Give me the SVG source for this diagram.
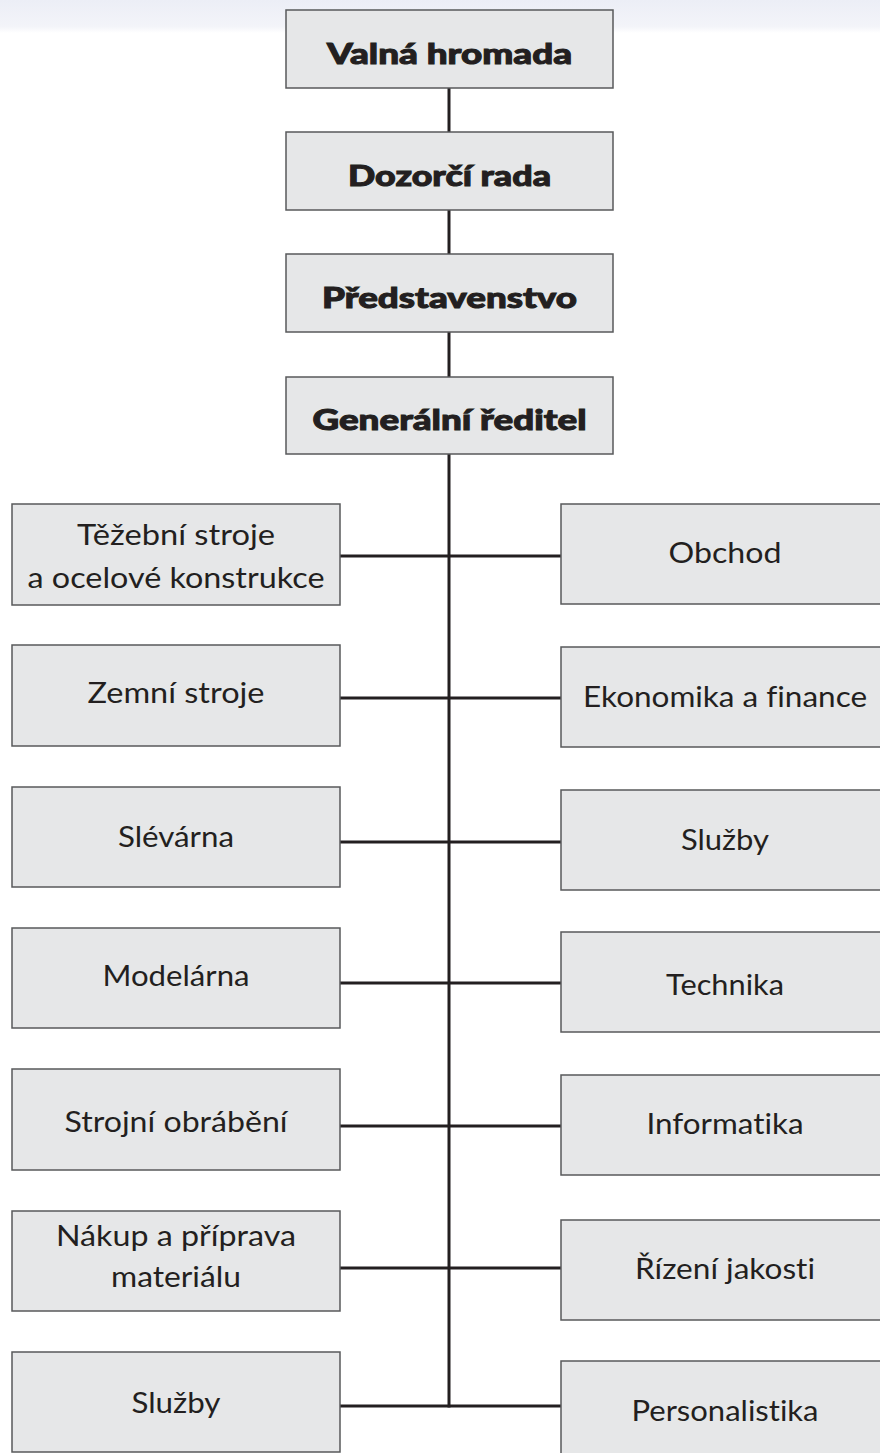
<svg xmlns="http://www.w3.org/2000/svg" width="880" height="1453" viewBox="0 0 880 1453">
<defs>
<linearGradient id="band" x1="0" y1="0" x2="0" y2="1">
<stop offset="0" stop-color="#eceef6"/>
<stop offset="0.8" stop-color="#f3f4f9"/>
<stop offset="1" stop-color="#ffffff"/>
</linearGradient>
</defs>
<style>
.box{fill:#e6e7e8;stroke:#58595b;stroke-width:1.5}
.hd{font-family:Lato,"DejaVu Sans",sans-serif;font-weight:900;font-size:29px;fill:#231f20;stroke:#231f20;stroke-width:1;text-anchor:middle;font-variant-ligatures:none}
.tx{font-family:Lato,"Open Sans","Liberation Sans",sans-serif;font-size:29px;fill:#231f20;text-anchor:middle;font-variant-ligatures:none}
.ln{stroke:#231f20;stroke-width:3;fill:none}
</style>
<rect x="0" y="0" width="880" height="1453" fill="#ffffff"/>
<rect x="0" y="0" width="880" height="33" fill="url(#band)"/>
<g id="connectors">
<line class="ln" x1="449" y1="88" x2="449" y2="132"/>
<line class="ln" x1="449" y1="210" x2="449" y2="254"/>
<line class="ln" x1="449" y1="332" x2="449" y2="377"/>
<line class="ln" x1="449" y1="454" x2="449" y2="1407.5"/>
<line class="ln" x1="340" y1="556" x2="561" y2="556"/>
<line class="ln" x1="340" y1="698" x2="561" y2="698"/>
<line class="ln" x1="340" y1="842" x2="561" y2="842"/>
<line class="ln" x1="340" y1="983" x2="561" y2="983"/>
<line class="ln" x1="340" y1="1126" x2="561" y2="1126"/>
<line class="ln" x1="340" y1="1268" x2="561" y2="1268"/>
<line class="ln" x1="340" y1="1406" x2="561" y2="1406"/>
</g>
<g id="valna-hromada">
<rect class="box" x="286" y="10" width="327" height="78"/>
<text class="hd" x="449.5" y="64" textLength="245" lengthAdjust="spacingAndGlyphs">Valná hromada</text>
</g>
<g id="dozorci-rada">
<rect class="box" x="286" y="132" width="327" height="78"/>
<text class="hd" x="449.5" y="186" textLength="203" lengthAdjust="spacingAndGlyphs">Dozorčí rada</text>
</g>
<g id="predstavenstvo">
<rect class="box" x="286" y="254" width="327" height="78"/>
<text class="hd" x="449.5" y="308" textLength="255" lengthAdjust="spacingAndGlyphs">Představenstvo</text>
</g>
<g id="generalni-reditel">
<rect class="box" x="286" y="377" width="327" height="77"/>
<text class="hd" x="449.5" y="430" textLength="274" lengthAdjust="spacingAndGlyphs">Generální ředitel</text>
</g>
<g id="tezebni-stroje">
<rect class="box" x="12" y="504" width="328" height="101"/>
<text class="tx" x="176" y="545" textLength="198" lengthAdjust="spacingAndGlyphs">Těžební stroje</text>
<text class="tx" x="176" y="588" textLength="297" lengthAdjust="spacingAndGlyphs">a ocelové konstrukce</text>
</g>
<g id="obchod">
<rect class="box" x="561" y="504" width="330" height="100"/>
<text class="tx" x="725" y="563" textLength="113" lengthAdjust="spacingAndGlyphs">Obchod</text>
</g>
<g id="zemni-stroje">
<rect class="box" x="12" y="645" width="328" height="101"/>
<text class="tx" x="176" y="703" textLength="177" lengthAdjust="spacingAndGlyphs">Zemní stroje</text>
</g>
<g id="ekonomika">
<rect class="box" x="561" y="647" width="330" height="100"/>
<text class="tx" x="725" y="707" textLength="284" lengthAdjust="spacingAndGlyphs">Ekonomika a finance</text>
</g>
<g id="slevarna">
<rect class="box" x="12" y="787" width="328" height="100"/>
<text class="tx" x="176" y="847" textLength="116" lengthAdjust="spacingAndGlyphs">Slévárna</text>
</g>
<g id="sluzby-r">
<rect class="box" x="561" y="790" width="330" height="100"/>
<text class="tx" x="725" y="850" textLength="88" lengthAdjust="spacingAndGlyphs">Služby</text>
</g>
<g id="modelarna">
<rect class="box" x="12" y="928" width="328" height="100"/>
<text class="tx" x="176" y="986" textLength="147" lengthAdjust="spacingAndGlyphs">Modelárna</text>
</g>
<g id="technika">
<rect class="box" x="561" y="932" width="330" height="100"/>
<text class="tx" x="725" y="995" textLength="118" lengthAdjust="spacingAndGlyphs">Technika</text>
</g>
<g id="strojni-obrabeni">
<rect class="box" x="12" y="1069" width="328" height="101"/>
<text class="tx" x="176" y="1132" textLength="223" lengthAdjust="spacingAndGlyphs">Strojní obrábění</text>
</g>
<g id="informatika">
<rect class="box" x="561" y="1075" width="330" height="100"/>
<text class="tx" x="725" y="1134" textLength="157" lengthAdjust="spacingAndGlyphs">Informatika</text>
</g>
<g id="nakup">
<rect class="box" x="12" y="1211" width="328" height="100"/>
<text class="tx" x="176" y="1246" textLength="240" lengthAdjust="spacingAndGlyphs">Nákup a příprava</text>
<text class="tx" x="176" y="1287" textLength="130" lengthAdjust="spacingAndGlyphs">materiálu</text>
</g>
<g id="rizeni-jakosti">
<rect class="box" x="561" y="1220" width="330" height="100"/>
<text class="tx" x="725" y="1279" textLength="180" lengthAdjust="spacingAndGlyphs">Řízení jakosti</text>
</g>
<g id="sluzby-l">
<rect class="box" x="12" y="1352" width="328" height="100"/>
<text class="tx" x="176" y="1413" textLength="89" lengthAdjust="spacingAndGlyphs">Služby</text>
</g>
<g id="personalistika">
<rect class="box" x="561" y="1361" width="330" height="100"/>
<text class="tx" x="725" y="1421" textLength="187" lengthAdjust="spacingAndGlyphs">Personalistika</text>
</g>
</svg>
